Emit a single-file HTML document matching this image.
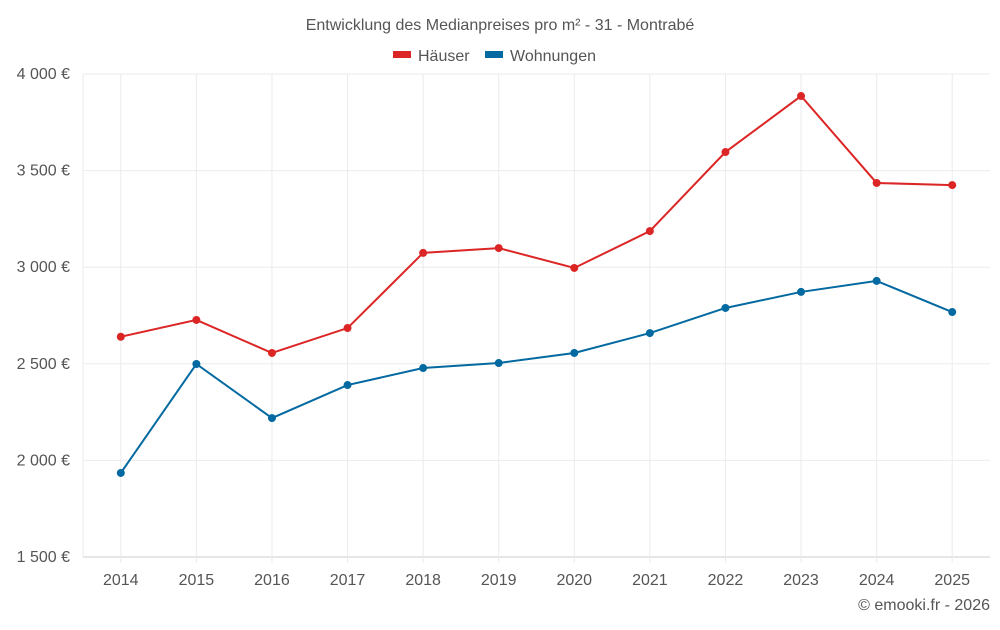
<!DOCTYPE html>
<html><head><meta charset="utf-8"><style>
body{margin:0;background:#fff;font-family:"Liberation Sans",sans-serif;}
svg text{font-family:"Liberation Sans",sans-serif;}
</style></head><body>
<svg id="chart" width="1000" height="625" xmlns="http://www.w3.org/2000/svg">
<text x="500" y="30" text-anchor="middle" font-size="16" fill="#555">Entwicklung des Medianpreises pro m² - 31 - Montrabé</text>
<g>
<g><rect x="393" y="51" width="18" height="7" fill="#dc2626"/><text x="418" y="61" font-size="16" fill="#555">Häuser</text></g>
<g><rect x="485" y="51" width="18" height="7" fill="#0369a1"/><text x="510" y="61" font-size="16" fill="#555">Wohnungen</text></g>
</g>
<g id="grid"></g>
<g id="axes"></g>
<g id="series"></g>
<text x="990" y="610" text-anchor="end" font-size="16" fill="#555">© emooki.fr - 2026</text>
</svg>
<script>
const years=["2014","2015","2016","2017","2018","2019","2020","2021","2022","2023","2024","2025"];
const houses=[2640,2727,2556,2685,3074,3099,2996,3187,3596,3886,3436,3425];
const flats=[1935,2499,2219,2390,2478,2504,2556,2659,2789,2872,2929,2768];
const yTicks=[1500,2000,2500,3000,3500,4000];
const yTickLabels=["1 500 €","2 000 €","2 500 €","3 000 €","3 500 €","4 000 €"];
const NS="http://www.w3.org/2000/svg";
const L=83,R=990,T=74,B=557,yMin=1500,yMax=4000;
const step=(R-L)/years.length;
const x=i=>L+step*(i+0.5);
const y=v=>B-(v-yMin)/(yMax-yMin)*(B-T);
function mk(tag,attrs,parent){const e=document.createElementNS(NS,tag);for(const k in attrs)e.setAttribute(k,attrs[k]);parent.appendChild(e);return e;}
const grid=document.getElementById('grid'),axes=document.getElementById('axes'),series=document.getElementById('series');
yTicks.forEach((t,i)=>{
 const ln=mk('line',{x1:L,x2:R,y1:y(t),y2:y(t),stroke:i==0?'#ccc':'#ebebeb'},grid);
 
 
 const tx=mk('text',{x:70,y:y(t)+5,'text-anchor':'end','font-size':16,fill:'#555'},axes);
 tx.textContent=yTickLabels[i];
 
 
});
const vl=mk('line',{x1:L,x2:L,y1:T,y2:B,stroke:'#ebebeb'},grid);


years.forEach((yr,i)=>{
 const g=mk('line',{x1:x(i),x2:x(i),y1:T,y2:B+6,stroke:'#ebebeb'},grid);
 
 
 const tx=mk('text',{x:x(i),y:585,'text-anchor':'middle','font-size':16,fill:'#555'},axes);
 tx.textContent=yr;
 
 
});
function draw(vals,color,name){
 const p=mk('polyline',{points:vals.map((v,i)=>x(i)+','+y(v)).join(' '),fill:'none',stroke:color,'stroke-width':2},series);
 
 
 vals.forEach((v,i)=>{
  const c=mk('circle',{cx:x(i),cy:y(v),r:4,fill:color},series);
  
  
 });
}
draw(houses,'#dc2626','haeuser');
draw(flats,'#0369a1','wohnungen');
</script>
</body></html>
